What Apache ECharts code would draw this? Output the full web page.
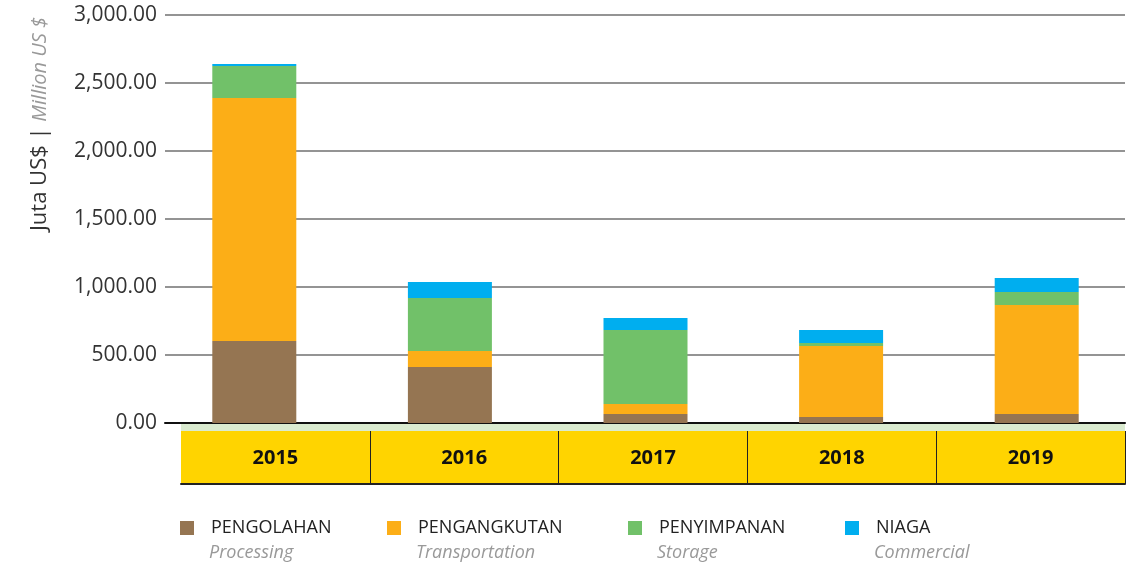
<!DOCTYPE html>
<html>
<head>
<meta charset="utf-8">
<script src="https://cdn.jsdelivr.net/npm/echarts@6/dist/echarts.min.js"></script>
<style>
  html, body { margin: 0; padding: 0; background: #fff; }
  #chart { width: 1140px; height: 562px; }
</style>
</head>
<body>
<div id="chart"></div>
<script>
// data
const years = ["2015", "2016", "2017", "2018", "2019"];
const pengolahan = [603, 412, 66, 44, 66];
const pengangkutan = [1787, 117, 74, 522, 802];
const penyimpanan = [235, 390, 544, 22, 95];
const niaga = [15, 118, 88, 96, 103];

const seriesNames = ["PENGOLAHAN", "PENGANGKUTAN", "PENYIMPANAN", "NIAGA"];
const seriesNamesEn = ["Processing", "Transportation", "Storage", "Commercial"];
const yTicks = [0, 500, 1000, 1500, 2000, 2500, 3000];

const colors = ["#957552", "#FCAE17", "#71C169", "#00AEEF"];
const font = "Open Sans";
const legendLeft = [180, 387, 628, 845];

const chart = echarts.init(document.getElementById("chart"));

const valueAxis = {
	type: "value",
	min: yTicks[0],
	max: yTicks[yTicks.length - 1],
	interval: yTicks[1] - yTicks[0],
};

const makeSeries = (name, values, i) => ({
	name: name,
	type: "bar",
	stack: "total",
	xAxisIndex: 2,
	yAxisIndex: 2,
	barWidth: 84,
	data: values,
	itemStyle: { color: colors[i] },
	emphasis: { disabled: true },
});

// one legend per column: Indonesian name with swatch, English name below
const legends = [];
seriesNames.forEach((name, i) => {
	legends.push({
		left: legendLeft[i],
		top: 519,
		padding: 0,
		itemWidth: 14,
		itemHeight: 14,
		icon: "rect",
		selectedMode: false,
		data: [name],
		textStyle: { fontFamily: font, fontSize: 18, color: "#222", padding: [0, 0, 0, 12] },
	});
	legends.push({
		left: legendLeft[i],
		top: 544,
		padding: 0,
		itemWidth: 14,
		itemHeight: 14,
		icon: "none",
		selectedMode: false,
		data: [name],
		formatter: () => seriesNamesEn[i],
		textStyle: { fontFamily: font, fontSize: 18, color: "#999", fontStyle: "italic", padding: [0, 0, 0, 10] },
	});
});

const option = {
	animation: false,
	grid: [
		// gridlines + y labels
		{ left: 165, right: 15, top: 15, bottom: 139 },
		// yellow year band
		{ left: 181, right: 15, top: 431, height: 53, show: true, backgroundColor: "#FFD400", borderWidth: 0 },
		// bars (slightly wider band spacing than the gridlines)
		{ left: 156.5, right: 5.5, top: 15, bottom: 139 },
	],
	xAxis: [
		{
			type: "category",
			gridIndex: 0,
			data: years,
			axisLine: { lineStyle: { color: "#111", width: 2 } },
			axisTick: { show: false },
			axisLabel: { show: false },
		},
		{
			type: "category",
			gridIndex: 1,
			data: years,
			position: "bottom",
			axisLine: { lineStyle: { color: "#222", width: 2 } },
			axisTick: { show: false },
			splitLine: { show: true, interval: (i) => i > 0, lineStyle: { color: "#222", width: 1 } },
			axisLabel: {
				inside: true,
				margin: 16,
				color: "#111",
				fontFamily: font,
				fontWeight: "bold",
				fontSize: 20,
			},
		},
		{ type: "category", gridIndex: 2, data: years, show: false },
	],
	yAxis: [
		{
			...valueAxis,
			gridIndex: 0,
			axisLine: { show: false },
			axisTick: { show: false },
			splitLine: { lineStyle: { color: "#707070", width: 1.5 } },
			axisLabel: {
				margin: 8,
				color: "#333",
				fontFamily: font,
				fontSize: 21,
				formatter: (v) =>
					v.toLocaleString("en-US", { minimumFractionDigits: 2, maximumFractionDigits: 2 }),
			},
			name: "{a|Juta US$ | }{b|Million US $}",
			nameLocation: "middle",
			nameGap: 114,
			nameTextStyle: {
				padding: [0, 0, 0, 190],
				rich: {
					a: { fontFamily: font, fontSize: 22, color: "#333" },
					b: { fontFamily: font, fontSize: 20, color: "#999", fontStyle: "italic" },
				},
			},
		},
		{ type: "value", gridIndex: 1, show: false },
		{ ...valueAxis, gridIndex: 2, show: false, splitLine: { show: false } },
	],
	legend: legends,
	graphic: [
		{
			type: "rect",
			shape: { x: 181, y: 424, width: 944, height: 7 },
			style: { fill: "#DAEBD0" },
			silent: true,
		},
	],
	series: [
		makeSeries(seriesNames[0], pengolahan, 0),
		makeSeries(seriesNames[1], pengangkutan, 1),
		makeSeries(seriesNames[2], penyimpanan, 2),
		makeSeries(seriesNames[3], niaga, 3),
	],
};

chart.setOption(option);
</script>
</body>
</html>
